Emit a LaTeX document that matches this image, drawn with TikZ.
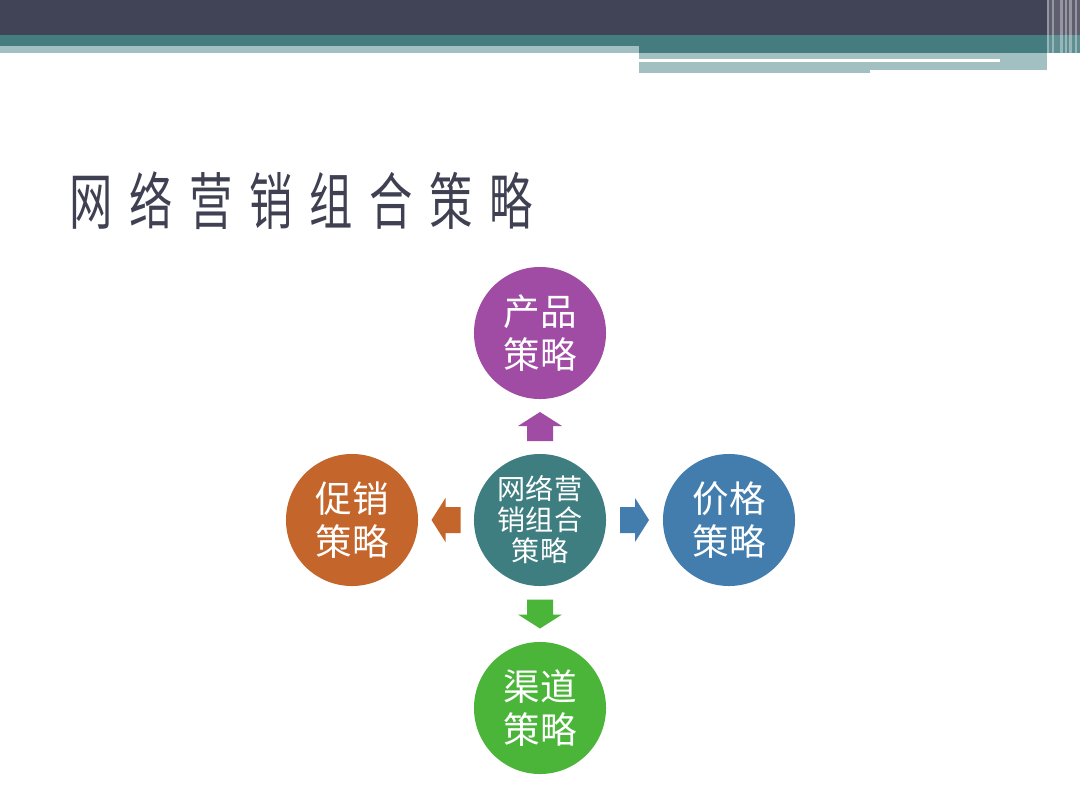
\documentclass[tikz,border=0pt]{standalone}
\usepackage{fontspec}
\usepackage{xcolor}
\usepackage{tikz}
\usetikzlibrary{calc}
\newfontfamily\cjk{Noto Sans CJK SC}
\definecolor{hdark}{HTML}{414356}
\definecolor{hteal}{HTML}{447C80}
\definecolor{hlight}{HTML}{A2BFC2}
\definecolor{titlegray}{HTML}{3F4152}
\definecolor{cmid}{HTML}{3F7E80}
\definecolor{cprod}{HTML}{A04CA5}
\definecolor{cprice}{HTML}{427DAE}
\definecolor{cplace}{HTML}{4BB53A}
\definecolor{cpromo}{HTML}{C4652B}
\tikzset{
ball/.style={circle,inner sep=0pt,minimum size=3.3cm,text=white,align=center,
  font=\cjk\fontsize{26}{30}\selectfont},
titlechar/.style={anchor=base,inner sep=0pt,text=titlegray,font=\cjk\fontsize{44}{48}\selectfont},
blockarrow/.pic={\fill(-14.5,-13)--(0.5,-13)--(0.5,-22)--(14.5,0)--(0.5,22)--(0.5,13)--(-14.5,13)--cycle;}
}
\begin{document}
\begin{tikzpicture}[x=0.025cm,y=-0.025cm]
\useasboundingbox[fill=white](0,0)rectangle(1080,810);
% header bands
\fill[hdark](0,0)rectangle(1080,35);
\fill[hteal](0,35)rectangle(1080,53);
\fill[hlight](0,46)rectangle(639,53);
\fill[hlight](639,53)rectangle(1047,70);
\fill[hlight](639,70)rectangle(870,73);
\fill[white](639,59)rectangle(1000,62);
\fill[white,opacity=0.15](1047,0)rectangle(1080,73);
\foreach \x/\w in {1047/1.5,1052/1.5,1060/3,1065/2,1069/3,1075/2}
  \fill[white,opacity=0.35](\x,0)rectangle+(\w,73);
% title
\foreach \c [count=\i from 0] in {网,络,营,销,组,合,策,略}
  \node[titlechar](t\i) at (91.5+60*\i,224){\scalebox{0.7}[1]{\c}};
% circles
\node[ball,fill=cmid,font=\cjk\fontsize{20}{22}\selectfont](mid) at (540,520){网络营\\销组合\\策略};
\node[ball,fill=cprod](prod) at (540,333){产品\\策略};
\node[ball,fill=cprice](price) at (729,520){价格\\策略};
\node[ball,fill=cplace](place) at (540,708){渠道\\策略};
\node[ball,fill=cpromo](promo) at (352,520){促销\\策略};
% arrows
\pic[cprod,rotate=90] at ($(mid)!0.5!(prod)$){blockarrow};
\pic[cprice] at ($(mid)!0.5!(price)$){blockarrow};
\pic[cplace,rotate=-90] at ($(mid)!0.5!(place)$){blockarrow};
\pic[cpromo,rotate=180] at ($(mid)!0.5!(promo)$){blockarrow};
\end{tikzpicture}
\end{document}
